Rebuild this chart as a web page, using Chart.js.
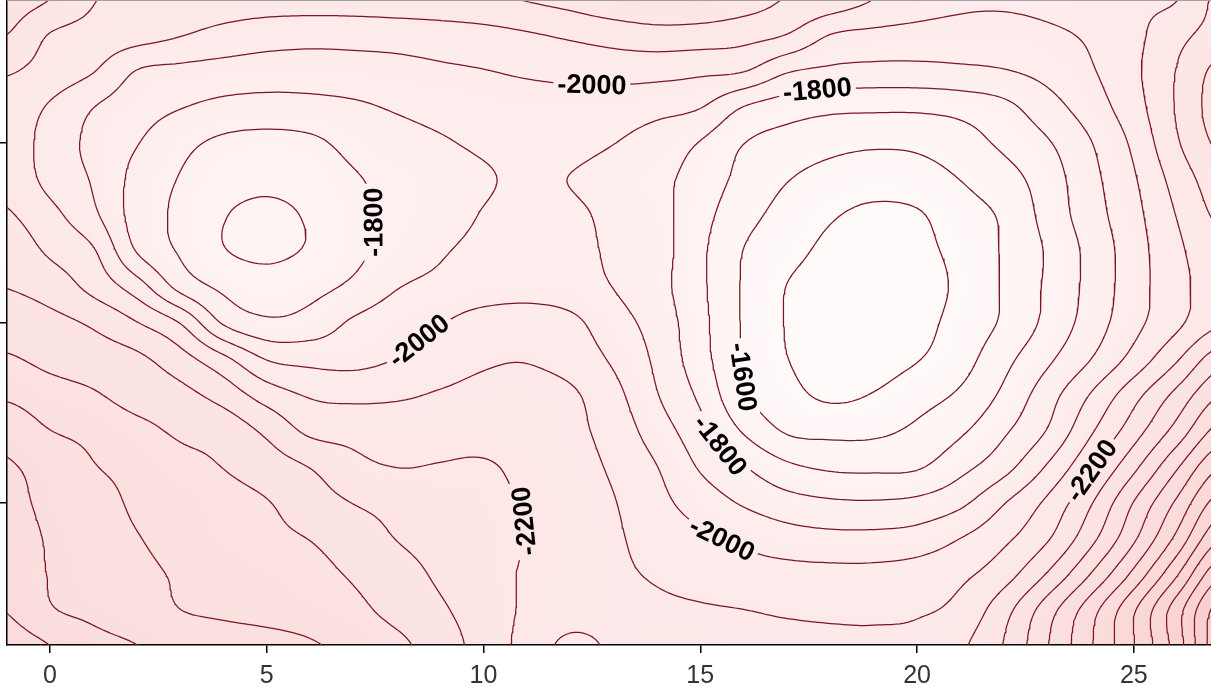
<!DOCTYPE html>
<html><head><meta charset="utf-8">
<script src="https://cdn.jsdelivr.net/npm/chart.js@4.4.1/dist/chart.umd.min.js"></script>
<style>html,body{margin:0;padding:0;background:#fff;overflow:hidden}canvas{display:block}</style>
</head><body>
<canvas id="c" width="1211" height="687"></canvas>
<script>
// ---------------- data ----------------
const xTickValues = [0, 5, 10, 15, 20, 25];
const xTickLabels = ['0', '5', '10', '15', '20', '25'];
const yTickValues = [5, 10, 15];

// grid node positions (columns = x, rows = y from top to bottom)
const gridX = [-1,0,1,2,3,4,5,6,7,8,9,10,11,12,13,14,15,16,17,18,19,20,21,22,23,24,25,26,27];
const gridY = [19,18,17,16,15,14,13,12,11,10,9,8,7,6,5,4,3,2,1];

// estimated surface values at the grid nodes
const depth = [
[-2340,-2300,-2205,-2180,-2160,-2150,-2145,-2145,-2150,-2160,-2170,-2185,-2205,-2230,-2270,-2290,-2280,-2245,-2195,-2160,-2100,-2050,-2020,-2015,-2030,-2060,-2085,-2098,-2230],
[-2300,-2195,-2165,-2140,-2105,-2070,-2045,-2035,-2035,-2040,-2050,-2065,-2090,-2115,-2140,-2160,-2155,-2135,-2097,-1998,-1975,-1965,-1960,-1960,-1980,-2015,-2075,-2170,-2240],
[-2210,-2160,-2105,-1997,-1975,-1960,-1950,-1950,-1960,-1970,-1985,-1997,-2015,-2030,-2040,-2035,-2020,-2005,-1910,-1880,-1870,-1870,-1880,-1895,-1930,-1990,-2080,-2205,-2330],
[-2160,-2090,-2002,-1945,-1905,-1875,-1865,-1870,-1885,-1910,-1930,-1945,-1955,-1955,-1945,-1930,-1905,-1798,-1750,-1725,-1720,-1720,-1735,-1775,-1860,-1950,-2060,-2210,-2350],
[-2160,-2060,-1975,-1905,-1830,-1780,-1765,-1780,-1830,-1865,-1890,-1915,-1930,-1930,-1902,-1860,-1795,-1702,-1660,-1630,-1615,-1620,-1655,-1720,-1790,-1895,-2020,-2190,-2320],
[-2170,-2070,-1990,-1870,-1795,-1740,-1720,-1740,-1790,-1830,-1855,-1890,-1915,-1898,-1860,-1825,-1760,-1670,-1605,-1565,-1545,-1560,-1602,-1660,-1750,-1870,-1990,-2140,-2260],
[-2210,-2130,-2020,-1860,-1780,-1705,-1685,-1710,-1775,-1825,-1860,-1905,-1930,-1920,-1875,-1835,-1735,-1635,-1565,-1510,-1480,-1490,-1560,-1615,-1735,-1855,-1970,-2105,-2220],
[-2260,-2185,-2110,-1895,-1790,-1705,-1685,-1710,-1775,-1840,-1890,-1925,-1945,-1940,-1880,-1840,-1720,-1598,-1530,-1480,-1460,-1475,-1530,-1610,-1710,-1830,-1955,-2080,-2170],
[-2298,-2255,-2170,-2050,-1870,-1780,-1740,-1770,-1820,-1895,-1925,-1945,-1955,-1945,-1898,-1835,-1720,-1590,-1498,-1465,-1445,-1460,-1520,-1610,-1715,-1830,-1955,-2070,-2150],
[-2360,-2330,-2285,-2205,-2098,-1890,-1820,-1840,-1915,-1960,-1995,-2045,-2060,-2025,-1940,-1860,-1730,-1590,-1495,-1460,-1445,-1470,-1535,-1615,-1725,-1845,-1970,-2080,-2190],
[-2410,-2375,-2350,-2320,-2240,-2125,-1995,-1970,-1970,-2002,-2045,-2085,-2095,-2060,-1985,-1880,-1740,-1595,-1502,-1470,-1460,-1495,-1560,-1670,-1780,-1898,-2035,-2190,-2360],
[-2485,-2440,-2410,-2360,-2330,-2260,-2155,-2090,-2075,-2085,-2110,-2130,-2135,-2115,-2030,-1905,-1780,-1610,-1530,-1485,-1505,-1560,-1615,-1720,-1855,-2005,-2165,-2330,-2500],
[-2565,-2502,-2475,-2430,-2385,-2360,-2280,-2180,-2170,-2165,-2165,-2160,-2150,-2125,-2060,-1950,-1835,-1690,-1590,-1575,-1580,-1620,-1685,-1785,-1905,-2085,-2255,-2440,-2640],
[-2610,-2560,-2505,-2470,-2430,-2398,-2350,-2297,-2225,-2199,-2205,-2210,-2175,-2140,-2085,-2002,-1890,-1805,-1720,-1685,-1680,-1690,-1770,-1865,-2010,-2185,-2375,-2590,-2800],
[-2630,-2575,-2540,-2485,-2460,-2435,-2405,-2350,-2298,-2270,-2245,-2220,-2195,-2155,-2105,-2030,-1955,-1890,-1840,-1815,-1810,-1825,-1880,-1995,-2120,-2290,-2505,-2720,-2950],
[-2650,-2590,-2550,-2505,-2470,-2445,-2420,-2398,-2350,-2298,-2265,-2230,-2198,-2160,-2115,-2060,-2020,-1980,-1945,-1930,-1930,-1945,-2002,-2080,-2190,-2370,-2585,-2830,-3100],
[-2675,-2595,-2560,-2525,-2490,-2470,-2450,-2430,-2390,-2340,-2285,-2235,-2190,-2155,-2120,-2090,-2065,-2045,-2035,-2030,-2030,-2045,-2080,-2160,-2310,-2505,-2730,-2995,-3290],
[-2698,-2610,-2580,-2550,-2502,-2485,-2470,-2455,-2425,-2370,-2315,-2250,-2185,-2145,-2135,-2120,-2110,-2102,-2090,-2085,-2085,-2090,-2130,-2265,-2455,-2660,-2890,-3160,-3450],
[-2750,-2702,-2630,-2602,-2575,-2550,-2535,-2510,-2475,-2425,-2350,-2260,-2165,-2075,-2115,-2145,-2140,-2135,-2130,-2120,-2115,-2130,-2185,-2305,-2495,-2690,-2895,-3150,-3480]
];

const contourLevels = [-3500,-3400,-3300,-3200,-3100,-3000,-2900,-2800,-2700,-2600,-2500,-2400,-2300,-2200,-2100,-2000,-1900,-1800,-1700,-1600,-1500,-1400];

const contourLabels = [
  {level:-2000, text:'-2000', x:12.45, y:16.44, angle:7},
  {level:-1800, text:'-1800', x:17.76, y:16.14, angle:-20},
  {level:-1800, text:'-1800', x:7.50,  y:12.81, angle:-80},
  {level:-2000, text:'-2000', x:8.58,  y:9.44,  angle:-42},
  {level:-1600, text:'-1600', x:16.10, y:8.47,  angle:73},
  {level:-1800, text:'-1800', x:15.50, y:6.69,  angle:52},
  {level:-2000, text:'-2000', x:15.54, y:3.97,  angle:28},
  {level:-2200, text:'-2200', x:10.95, y:4.53,  angle:-90},
  {level:-2200, text:'-2200', x:24.05, y:5.86,  angle:-55}
];

// ---------------- surface sampling (Catmull-Rom through the grid) ----------------
const nCols = gridX.length, nRows = gridY.length;
function at(r, c) {
  r = Math.max(0, Math.min(nRows - 1, r));
  c = Math.max(0, Math.min(nCols - 1, c));
  return depth[r][c];
}
function cr(p0, p1, p2, p3, t) {
  return p1 + 0.5 * t * (p2 - p0 + t * (2 * p0 - 5 * p1 + 4 * p2 - p3 + t * (3 * (p1 - p2) + p3 - p0)));
}
function sampleDepth(x, y) {
  const gc = x - gridX[0], gr = gridY[0] - y;
  let c = Math.floor(gc), r = Math.floor(gr);
  c = Math.max(0, Math.min(nCols - 2, c));
  r = Math.max(0, Math.min(nRows - 2, r));
  const tx = gc - c, ty = gr - r;
  const v = [];
  for (let k = -1; k <= 2; k++) v.push(cr(at(r + k, c - 1), at(r + k, c), at(r + k, c + 1), at(r + k, c + 2), tx));
  return cr(v[0], v[1], v[2], v[3], ty);
}

const step = 0.1;
const fx0 = gridX[0], fx1 = gridX[nCols - 1], fy0 = gridY[nRows - 1], fy1 = gridY[0];
const NX = Math.round((fx1 - fx0) / step) + 1, NY = Math.round((fy1 - fy0) / step) + 1;
const FX = [], FY = [];
for (let i = 0; i < NX; i++) FX.push(fx0 + i * step);
for (let j = 0; j < NY; j++) FY.push(fy0 + j * step);
const FV = [];
for (let j = 0; j < NY; j++) { const row = []; for (let i = 0; i < NX; i++) row.push(sampleDepth(FX[i], FY[j])); FV.push(row); }

// ---------------- marching squares ----------------
function contourPolylines(L) {
  const segs = [];
  const adj = new Map();
  function addSeg(a, b) {
    const k = segs.length; segs.push([a, b]);
    if (!adj.has(a)) adj.set(a, []); adj.get(a).push(k);
    if (!adj.has(b)) adj.set(b, []); adj.get(b).push(k);
  }
  for (let j = 0; j < NY - 1; j++) {
    for (let i = 0; i < NX - 1; i++) {
      const v0 = FV[j][i], v1 = FV[j][i + 1], v2 = FV[j + 1][i + 1], v3 = FV[j + 1][i];
      const b0 = v0 >= L, b1 = v1 >= L, b2 = v2 >= L, b3 = v3 >= L;
      const c = (b0 ? 1 : 0) | (b1 ? 2 : 0) | (b2 ? 4 : 0) | (b3 ? 8 : 0);
      if (c === 0 || c === 15) continue;
      const e0 = (j * NX + i) * 2, e1 = (j * NX + i + 1) * 2 + 1, e2 = ((j + 1) * NX + i) * 2, e3 = (j * NX + i) * 2 + 1;
      const list = [];
      if (b0 !== b1) list.push(e0);
      if (b1 !== b2) list.push(e1);
      if (b3 !== b2) list.push(e2);
      if (b0 !== b3) list.push(e3);
      if (list.length === 2) addSeg(list[0], list[1]);
      else if (list.length === 4) {
        const ctr = (v0 + v1 + v2 + v3) / 4;
        if (c === 5) { if (ctr >= L) { addSeg(e0, e1); addSeg(e2, e3); } else { addSeg(e3, e0); addSeg(e1, e2); } }
        else { if (ctr >= L) { addSeg(e3, e0); addSeg(e1, e2); } else { addSeg(e0, e1); addSeg(e2, e3); } }
      }
    }
  }
  function pt(id) {
    const type = id & 1, k = id >> 1, i = k % NX, j = Math.floor(k / NX);
    if (type === 0) { const a = FV[j][i], b = FV[j][i + 1], t = (L - a) / (b - a); return {x: FX[i] + t * step, y: FY[j]}; }
    const a = FV[j][i], b = FV[j + 1][i], t = (L - a) / (b - a); return {x: FX[i], y: FY[j] + t * step};
  }
  const used = new Array(segs.length).fill(false);
  const lines = [];
  for (let s = 0; s < segs.length; s++) {
    if (used[s]) continue;
    used[s] = true;
    const chain = [segs[s][0], segs[s][1]];
    let end = chain[chain.length - 1];
    while (true) {
      const cand = (adj.get(end) || []).find(k => !used[k]);
      if (cand === undefined) break;
      used[cand] = true;
      const nxt = segs[cand][0] === end ? segs[cand][1] : segs[cand][0];
      chain.push(nxt); end = nxt;
    }
    let start = chain[0];
    while (true) {
      const cand = (adj.get(start) || []).find(k => !used[k]);
      if (cand === undefined) break;
      used[cand] = true;
      const nxt = segs[cand][0] === start ? segs[cand][1] : segs[cand][0];
      chain.unshift(nxt); start = nxt;
    }
    lines.push(chain.map(pt));
  }
  return lines;
}

const linesByLevel = {};
const datasets = [];
contourLevels.forEach(L => {
  const ls = contourPolylines(L);
  linesByLevel[L] = ls;
  ls.forEach(pts => datasets.push({
    data: pts, showLine: true, pointRadius: 0, pointHoverRadius: 0,
    borderColor: '#7a1820', borderWidth: 1.25, fill: false, tension: 0,
    borderJoinStyle: 'round'
  }));
});

// ---------------- background shading from the same surface ----------------
const shadeStops = [[-3500, [249, 206, 206]], [-2700, [251, 220, 220]], [-2200, [253, 231, 231]], [-1900, [254, 238, 238]], [-1600, [255, 246, 246]], [-1400, [255, 253, 253]]];
function shade(v) {
  if (v <= shadeStops[0][0]) return shadeStops[0][1];
  for (let k = 1; k < shadeStops.length; k++) {
    if (v <= shadeStops[k][0]) {
      const [a, ca] = shadeStops[k - 1], [b, cb] = shadeStops[k];
      const t = (v - a) / (b - a);
      return [0, 1, 2].map(q => ca[q] + t * (cb[q] - ca[q]));
    }
  }
  return shadeStops[shadeStops.length - 1][1];
}
const bgCanvas = document.createElement('canvas');
bgCanvas.width = NX; bgCanvas.height = NY;
(function () {
  const g = bgCanvas.getContext('2d');
  const img = g.createImageData(NX, NY);
  for (let j = 0; j < NY; j++) for (let i = 0; i < NX; i++) {
    const col = shade(FV[j][i]);
    const o = ((NY - 1 - j) * NX + i) * 4;
    img.data[o] = col[0]; img.data[o + 1] = col[1]; img.data[o + 2] = col[2]; img.data[o + 3] = 255;
  }
  g.putImageData(img, 0, 0);
})();

const LABEL_FONT = 'bold 27px "Liberation Sans", Arial, sans-serif';

const decoPlugin = {
  id: 'contourDeco',
  beforeDraw(chart) {
    const {ctx, chartArea: a, scales: {x: xs, y: ys}} = chart;
    const l = xs.getPixelForValue(fx0 - step / 2), r = xs.getPixelForValue(fx1 + step / 2);
    const t = ys.getPixelForValue(fy1 + step / 2), b = ys.getPixelForValue(fy0 - step / 2);
    ctx.save();
    ctx.beginPath(); ctx.rect(a.left, a.top, a.right - a.left, a.bottom - a.top); ctx.clip();
    ctx.imageSmoothingEnabled = true;
    ctx.drawImage(bgCanvas, l, t, r - l, b - t);
    ctx.restore();
  },
  beforeDatasetsDraw(chart) {
    const {ctx, scales: {x: xs, y: ys}} = chart;
    ctx.font = LABEL_FONT;
    const placed = [];
    contourLabels.forEach(lab => {
      const tx = xs.getPixelForValue(lab.x), ty = ys.getPixelForValue(lab.y);
      let best = null, bd = Infinity;
      (linesByLevel[lab.level] || []).forEach(line => {
        for (let k = 0; k < line.length; k++) {
          const px = xs.getPixelForValue(line[k].x), py = ys.getPixelForValue(line[k].y);
          const d = (px - tx) ** 2 + (py - ty) ** 2;
          if (d < bd) { bd = d; best = {line, k}; }
        }
      });
      let cx = tx, cy = ty, ang = lab.angle * Math.PI / 180;
      if (best && bd < 40 * 40) {
        const {line, k} = best;
        const p = line[k];
        cx = xs.getPixelForValue(p.x); cy = ys.getPixelForValue(p.y);
        const pa = line[Math.max(0, k - 6)], pb = line[Math.min(line.length - 1, k + 6)];
        const dx = xs.getPixelForValue(pb.x) - xs.getPixelForValue(pa.x);
        const dy = ys.getPixelForValue(pb.y) - ys.getPixelForValue(pa.y);
        let th = Math.atan2(dy, dx);
        const want = lab.angle * Math.PI / 180;
        const diff = q => Math.abs(Math.atan2(Math.sin(q - want), Math.cos(q - want)));
        if (diff(th + Math.PI) < diff(th)) th += Math.PI;
        ang = th;
      }
      const w = ctx.measureText(lab.text).width;
      placed.push({cx, cy, ang, w, text: lab.text});
    });
    chart.$placedLabels = placed;
    ctx.save();
    ctx.beginPath();
    ctx.rect(0, 0, chart.width, chart.height);
    placed.forEach(p => {
      const hw = p.w / 2 + 4, hh = 12;
      const c = Math.cos(p.ang), s = Math.sin(p.ang);
      const corners = [[-hw, -hh], [hw, -hh], [hw, hh], [-hw, hh]].map(([u, v]) => [p.cx + u * c - v * s, p.cy + u * s + v * c]);
      ctx.moveTo(corners[0][0], corners[0][1]);
      for (let q = 1; q < 4; q++) ctx.lineTo(corners[q][0], corners[q][1]);
      ctx.closePath();
    });
    ctx.clip('evenodd');
  },
  afterDatasetsDraw(chart) {
    const {ctx, chartArea: a} = chart;
    ctx.restore();
    ctx.save();
    ctx.font = LABEL_FONT;
    ctx.fillStyle = '#000';
    ctx.textAlign = 'center';
    ctx.textBaseline = 'middle';
    (chart.$placedLabels || []).forEach(p => {
      ctx.save();
      ctx.translate(p.cx, p.cy);
      ctx.rotate(p.ang);
      ctx.fillText(p.text, 0, 1);
      ctx.restore();
    });
    ctx.strokeStyle = '#a0a0a0';
    ctx.lineWidth = 1;
    ctx.beginPath(); ctx.moveTo(a.left, a.top + 0.5); ctx.lineTo(a.right, a.top + 0.5); ctx.stroke();
    ctx.restore();
  }
};

new Chart(document.getElementById('c'), {
  type: 'scatter',
  data: {datasets},
  options: {
    responsive: false, animation: false, devicePixelRatio: 1, events: [],
    parsing: false, normalized: true,
    layout: {padding: 0},
    plugins: {legend: {display: false}, tooltip: {enabled: false}},
    scales: {
      x: {
        type: 'linear', min: -0.99, max: 26.78,
        afterBuildTicks: s => { s.ticks = xTickValues.map(v => ({value: v})); },
        afterFit: s => { s.height = 42; },
        ticks: {
          callback: v => xTickLabels[xTickValues.indexOf(v)],
          font: {family: '"Liberation Sans", Arial, sans-serif', size: 25},
          color: '#333', padding: 8, maxRotation: 0, autoSkip: false
        },
        grid: {drawOnChartArea: false, drawTicks: true, tickLength: 8, color: '#000', lineWidth: 1.5},
        border: {display: true, color: '#000', width: 1.5}
      },
      y: {
        type: 'linear', min: 1.056, max: 18.97,
        afterBuildTicks: s => { s.ticks = yTickValues.map(v => ({value: v})); },
        afterFit: s => { s.width = 7; },
        ticks: {display: false},
        grid: {drawOnChartArea: false, drawTicks: true, tickLength: 7, color: '#000', lineWidth: 1.5},
        border: {display: true, color: '#000', width: 1.5}
      }
    }
  },
  plugins: [decoPlugin]
});
</script>
</body></html>
